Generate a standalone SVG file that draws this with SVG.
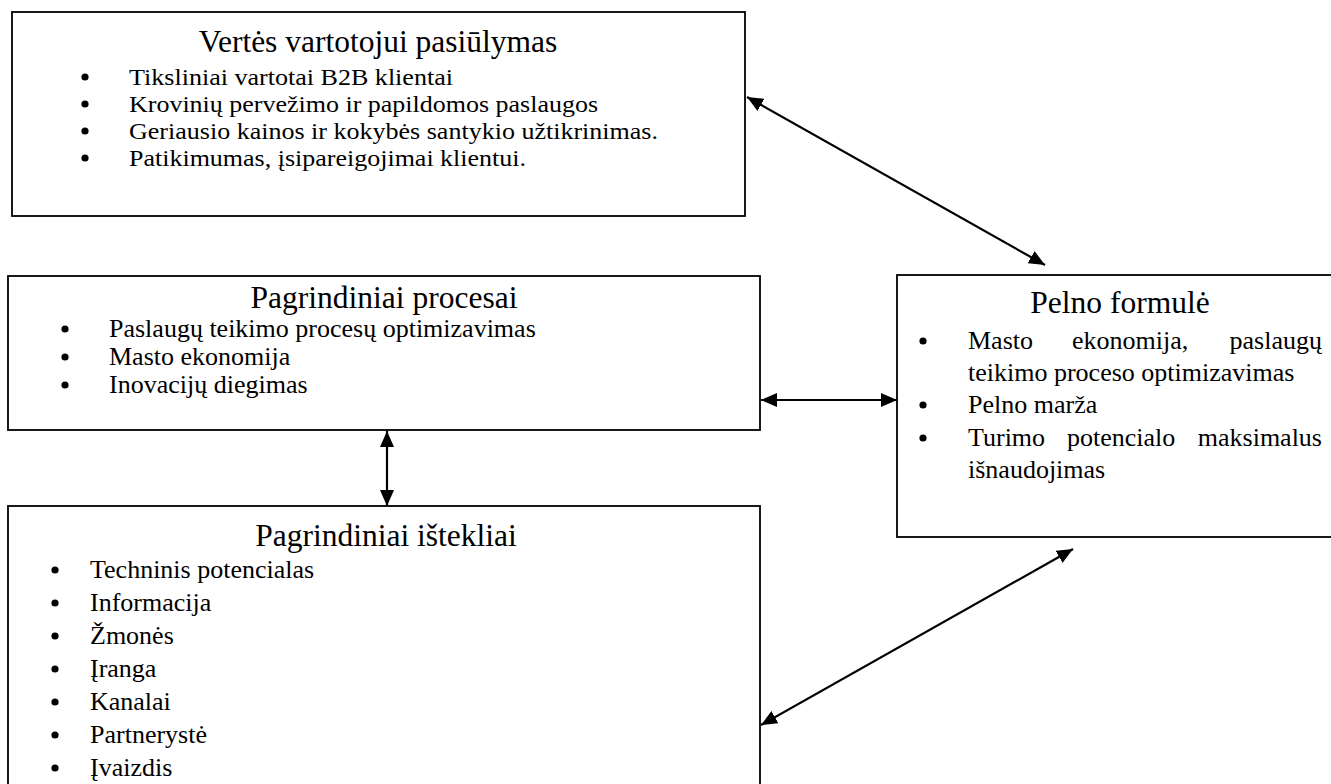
<svg xmlns="http://www.w3.org/2000/svg" width="1331" height="784" viewBox="0 0 1331 784">
<defs>
<style>
.box{fill:#fff;stroke:#000;stroke-width:1.8}
.t{font-family:"Liberation Serif","Times New Roman",serif;fill:#000}
.ttl{font-size:31.5px;text-anchor:middle}
.it{font-size:26px}
.it1{font-size:24px}
.con{stroke:#000;stroke-width:2.2;fill:none;marker-start:url(#ah);marker-end:url(#ah)}
</style>
<marker id="ah" viewBox="0 0 16 14" refX="16" refY="7" markerWidth="16" markerHeight="14" markerUnits="userSpaceOnUse" orient="auto-start-reverse">
<path d="M0,0 L16,7 L0,14 z" fill="#000"/>
</marker>
<circle id="b" r="3.6" fill="#000"/>
</defs>
<rect width="1331" height="784" fill="#fff"/>

<g id="vertes">
<rect class="box" x="12" y="12" width="733" height="204"/>
<text class="t ttl" x="378" y="52">Vertės vartotojui pasiūlymas</text>
<use href="#b" x="85" y="77"/><use href="#b" x="85" y="104"/><use href="#b" x="85" y="131"/><use href="#b" x="85" y="158"/>
<g class="t it1">
<text x="129" y="85" textLength="324" lengthAdjust="spacingAndGlyphs">Tiksliniai vartotai B2B klientai</text>
<text x="129" y="112" textLength="469" lengthAdjust="spacingAndGlyphs">Krovinių pervežimo ir papildomos paslaugos</text>
<text x="129" y="139" textLength="529" lengthAdjust="spacingAndGlyphs">Geriausio kainos ir kokybės santykio užtikrinimas.</text>
<text x="129" y="166" textLength="397" lengthAdjust="spacingAndGlyphs">Patikimumas, įsipareigojimai klientui.</text>
</g>
</g>

<g id="procesai">
<rect class="box" x="8" y="276" width="752" height="154"/>
<text class="t ttl" x="384" y="308">Pagrindiniai procesai</text>
<use href="#b" x="65" y="329"/><use href="#b" x="65" y="357"/><use href="#b" x="65" y="385"/>
<g class="t it">
<text x="109" y="337">Paslaugų teikimo procesų optimizavimas</text>
<text x="109" y="365">Masto ekonomija</text>
<text x="109" y="393">Inovacijų diegimas</text>
</g>
</g>

<g id="pelno">
<rect class="box" x="897" y="275" width="450" height="262"/>
<text class="t ttl" x="1120" y="313">Pelno formulė</text>
<use href="#b" x="923" y="341"/><use href="#b" x="923" y="405"/><use href="#b" x="923" y="438"/>
<g class="t it">
<text y="349"><tspan x="968">Masto</tspan><tspan x="1072">ekonomija,</tspan><tspan x="1322" text-anchor="end">paslaugų</tspan></text>
<text x="968" y="381">teikimo proceso optimizavimas</text>
<text x="968" y="413">Pelno marža</text>
<text y="446"><tspan x="968">Turimo</tspan><tspan x="1067">potencialo</tspan><tspan x="1322" text-anchor="end">maksimalus</tspan></text>
<text x="968" y="478">išnaudojimas</text>
</g>
</g>

<g id="istekliai">
<rect class="box" x="8" y="506" width="752" height="300"/>
<text class="t ttl" x="386" y="546">Pagrindiniai ištekliai</text>
<use href="#b" x="55" y="570"/><use href="#b" x="55" y="603"/><use href="#b" x="55" y="636"/><use href="#b" x="55" y="669"/><use href="#b" x="55" y="702"/><use href="#b" x="55" y="735"/><use href="#b" x="55" y="768"/>
<g class="t it">
<text x="90" y="578">Techninis potencialas</text>
<text x="90" y="611">Informacija</text>
<text x="90" y="644">Žmonės</text>
<text x="90" y="677">Įranga</text>
<text x="90" y="710">Kanalai</text>
<text x="90" y="743">Partnerystė</text>
<text x="90" y="776">Įvaizdis</text>
</g>
</g>

<g id="connectors">
<line class="con" x1="747" y1="97" x2="1045" y2="265"/>
<line class="con" x1="761" y1="400" x2="897" y2="400"/>
<line class="con" x1="387" y1="431" x2="387" y2="506"/>
<line class="con" x1="761" y1="725" x2="1073" y2="549"/>
</g>
</svg>
